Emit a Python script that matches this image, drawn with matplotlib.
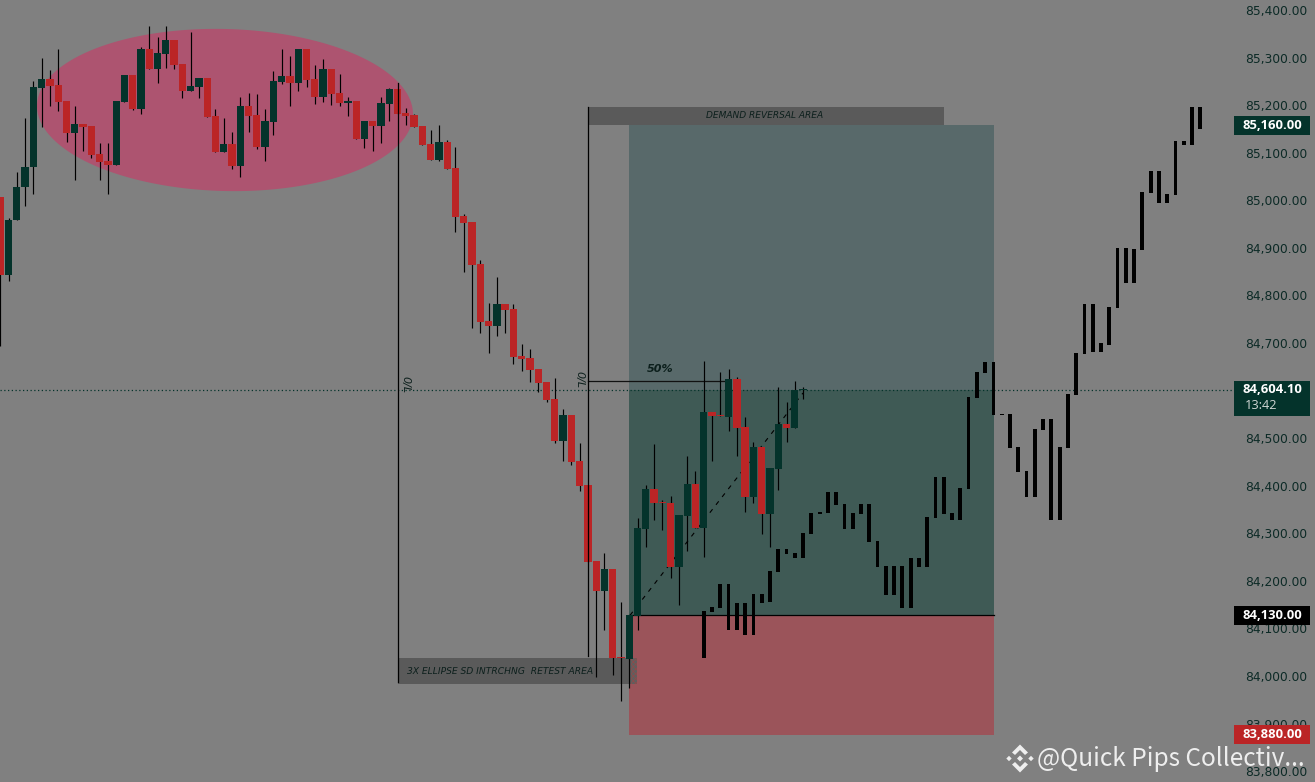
import numpy as np
import matplotlib
matplotlib.use('Agg')
import matplotlib.pyplot as plt
from matplotlib.patches import Polygon, Rectangle

BG = '#808080'
GREEN = '#04332b'
RED = '#bb2526'
AXIS_TEXT = '#0c2a26'

# candles, one value per bar
opens = [85007, 84842, 84958, 85027, 85069, 85236, 85255, 85242, 85209, 85142, 85161, 85156, 85098, 85083, 85074,
         85207, 85264, 85192, 85318, 85276, 85308, 85337, 85287, 85230, 85238, 85257, 85177, 85102, 85119, 85072,
         85198, 85179, 85112, 85165, 85249, 85261, 85247, 85318, 85255, 85217, 85276, 85226, 85205, 85209, 85129,
         85167, 85156, 85203, 85234, 85184, 85179, 85156, 85119, 85085, 85123, 85068, 84967, 84955, 84866, 84747,
         84736, 84783, 84772, 84673, 84669, 84646, 84617, 84583, 84495, 84549, 84452, 84401, 84242, 84179, 84225,
         84040, 84036, 84127, 84309, 84393, 84366, 84364, 84229, 84336, 84404, 84311, 84555, 84548, 84544, 84624,
         84523, 84376, 84481, 84341, 84435, 84530, 84521, 84601]
highs = [85007, 84962, 85059, 85173, 85251, 85299, 85274, 85318, 85209, 85198, 85161, 85156, 85120, 85120, 85209,
         85264, 85264, 85322, 85366, 85343, 85366, 85337, 85287, 85354, 85257, 85257, 85192, 85173, 85144, 85217,
         85225, 85224, 85192, 85272, 85318, 85303, 85318, 85318, 85284, 85297, 85276, 85266, 85217, 85209, 85167,
         85167, 85217, 85236, 85234, 85194, 85182, 85156, 85148, 85159, 85127, 85112, 84971, 84955, 84875, 84785,
         84839, 84783, 84783, 84698, 84688, 84646, 84617, 84627, 84562, 84549, 84490, 84401, 84242, 84259, 84225,
         84156, 84128, 84332, 84402, 84488, 84370, 84378, 84338, 84462, 84431, 84662, 84555, 84639, 84645, 84628,
         84544, 84492, 84481, 84437, 84607, 84576, 84620, 84607]
lows = [84693, 84830, 84958, 84989, 85014, 85155, 85198, 85188, 85123, 85043, 85104, 85089, 85043, 85014, 85074,
        85207, 85190, 85182, 85276, 85247, 85278, 85276, 85215, 85230, 85215, 85175, 85102, 85102, 85066, 85049,
        85144, 85108, 85083, 85137, 85245, 85198, 85230, 85238, 85203, 85207, 85200, 85198, 85177, 85129, 85110,
        85104, 85121, 85167, 85182, 85158, 85154, 85116, 85085, 85083, 85066, 84934, 84850, 84732, 84722, 84678,
        84715, 84722, 84656, 84642, 84617, 84598, 84577, 84489, 84452, 84443, 84389, 84240, 83998, 84097, 84002,
        83948, 83975, 84097, 84271, 84328, 84307, 84206, 84150, 84263, 84311, 84250, 84452, 84546, 84515, 84462,
        84345, 84364, 84299, 84271, 84391, 84492, 84521, 84582]
closes = [84842, 84959, 85028, 85070, 85238, 85255, 85240, 85207, 85142, 85161, 85154, 85095, 85081, 85074, 85209,
          85264, 85192, 85318, 85276, 85310, 85337, 85284, 85230, 85240, 85257, 85175, 85102, 85119, 85072, 85198,
          85177, 85112, 85167, 85251, 85261, 85247, 85318, 85253, 85217, 85276, 85224, 85205, 85209, 85129, 85167,
          85156, 85205, 85234, 85182, 85177, 85154, 85116, 85085, 85123, 85066, 84965, 84953, 84864, 84745, 84736,
          84783, 84770, 84671, 84667, 84644, 84615, 84581, 84495, 84549, 84450, 84399, 84240, 84179, 84225, 84038,
          84038, 84128, 84311, 84393, 84364, 84364, 84229, 84338, 84404, 84311, 84555, 84546, 84546, 84624, 84521,
          84376, 84481, 84341, 84437, 84530, 84521, 84601, 84604.1]

# black projected path, starts at bar 85
ghost_start = 85
ghost_top = [84137, 84145, 84193, 84193, 84154, 84154, 84173, 84173, 84221, 84267, 84267, 84259, 84301, 84343, 84344,
             84387, 84387, 84362, 84343, 84362, 84362, 84284, 84231, 84231, 84231, 84248, 84248, 84334, 84418, 84418,
             84343, 84395, 84586, 84639, 84660, 84660, 84551, 84551, 84481, 84431, 84519, 84540, 84540, 84481, 84593,
             84678, 84783, 84783, 84699, 84776, 84900, 84900, 84898, 85018, 85062, 85062, 85014, 85125, 85125, 85196,
             85196]
ghost_bottom = [84038, 84135, 84143, 84097, 84097, 84086, 84086, 84154, 84156, 84219, 84257, 84248, 84248, 84299, 84341,
                84343, 84360, 84309, 84309, 84341, 84282, 84229, 84170, 84170, 84143, 84143, 84229, 84229, 84332, 84341,
                84328, 84328, 84393, 84584, 84637, 84548, 84548, 84479, 84429, 84376, 84376, 84517, 84328, 84328, 84479,
                84591, 84676, 84682, 84682, 84696, 84774, 84827, 84827, 84896, 85016, 84995, 84995, 85012, 85117, 85117,
                85150]

# 84,600 sits under the last price tag in the original, so it has no label
price_ticks = [85400, 85300, 85200, 85100, 85000, 84900, 84800, 84700, 84500, 84400, 84300, 84200, 84100,
               84000, 83900, 83800]
last_price = 84604.10
target = 85160
entry = 84130
stop = 83880

# pixel scale of the chart
BAR_PX = 8.276
X0_PX = 0.3
PRICE_PX = 0.4757
Y0_PX = 10


def bx(px):
    return (px - X0_PX) / BAR_PX


def py(px):
    return 85400 - (px - Y0_PX) / PRICE_PX


fig = plt.figure(figsize=(13.15, 7.82), dpi=100, facecolor=BG)
ax = fig.add_axes([0, 0, 1, 1], facecolor=BG)
ax.set_xlim(bx(0), bx(1315))
ax.set_ylim(py(782), py(0))
for s in ax.spines.values():
    s.set_visible(False)
ax.set_axisbelow(True)

ax.set_xticks([])
ax.yaxis.tick_right()
ax.set_yticks(price_ticks)
ax.set_yticklabels([f'{p:,.2f}' for p in price_ticks])
ax.tick_params(axis='y', length=0, pad=-50.5, labelsize=8.8, labelcolor=AXIS_TEXT)

# ellipse, tilted on screen
t = np.linspace(0, 2 * np.pi, 300)
tilt = np.radians(1.5)
ex = 188 * np.cos(t)
ey = 81 * np.sin(t)
ell_x = 225 + ex * np.cos(tilt) - ey * np.sin(tilt)
ell_y = 110 + ex * np.sin(tilt) + ey * np.cos(tilt)
ax.add_patch(Polygon(np.column_stack([bx(ell_x), py(ell_y)]), fc='#ad5470', ec='none', zorder=1))

# position tool, edges sit about a pixel under the labels
z_left, z_right = bx(629), bx(994)
z_top, z_last, z_entry, z_stop = py(125), py(390.3), py(615.3), py(735)
ax.add_patch(Rectangle((z_left, z_last), z_right - z_left, z_top - z_last, fc='#58696a', ec='none', zorder=1))
ax.add_patch(Rectangle((z_left, z_entry), z_right - z_left, z_last - z_entry, fc='#3f5a55', ec='none', zorder=1))
ax.add_patch(Rectangle((z_left, z_stop), z_right - z_left, z_entry - z_stop, fc='#9b545a', ec='none', zorder=1))
ax.plot([z_left, z_right], [z_entry, z_entry], color='black', lw=0.9, zorder=2)
ax.plot([bx(630), bx(803)], [z_entry, py(393)], color='black', lw=0.8, dashes=(4, 5), zorder=2)

# label boxes
ax.add_patch(Rectangle((bx(589), py(125)), bx(944) - bx(589), py(107) - py(125), fc='#5a5a5a', ec='none', zorder=1.5))
ax.add_patch(Rectangle((bx(398), py(684)), bx(631) - bx(398), py(658) - py(684), fc='#5a5a5a', ec='none', zorder=1.5))
plt.rcParams['hatch.linewidth'] = 0.5
ax.add_patch(Rectangle((bx(631), py(684)), bx(637) - bx(631), py(658) - py(684), fc='#5f5f5f', ec='#8f4a4a',
                       lw=0, hatch='xxxxxxx', zorder=1.5))
ax.text(bx(765), py(115.5), 'DEMAND REVERSAL AREA', fontsize=6.5, style='italic', color='#0c1f1c',
        ha='center', va='center', zorder=6)
ax.text(bx(500), py(671), '3X ELLIPSE SD INTRCHNG  RETEST AREA', fontsize=6.6, style='italic', color='#0c1f1c',
        ha='center', va='center', zorder=6)
ax.text(bx(660), py(369), '50%', fontsize=8, style='italic', color='#0c1f1c', weight='bold',
        ha='center', va='center', zorder=6)
ax.text(bx(405), py(385), '0/L', fontsize=8, style='italic', color='#0c1f1c', rotation=270,
        ha='center', va='center', zorder=6)
ax.text(bx(579), py(380), '0/L', fontsize=8, style='italic', color='#0c1f1c', rotation=270,
        ha='center', va='center', zorder=6)

# vertical and 50% lines
ax.plot([bx(397.5), bx(397.5)], [py(83), py(682)], color='black', lw=0.9, zorder=4)
ax.plot([bx(588.3), bx(588.3)], [py(107), py(656)], color='black', lw=0.9, zorder=4)
ax.plot([bx(588.3), bx(728)], [py(380.5), py(380.5)], color='#111111', lw=0.9, zorder=2)

# last price line
ax.plot([bx(0), bx(1234)], [z_last, z_last], color=GREEN, lw=0.9, dashes=(1, 2), zorder=2.5)

# candles
o = np.array(opens)
h = np.array(highs)
l = np.array(lows)
c = np.array(closes)
bars = np.arange(len(o))
up = c >= o
ax.vlines(bars, l, h, color='black', lw=0.85, zorder=3)
ax.bar(bars[up], (c - o)[up], bottom=o[up], width=0.88, color=GREEN, linewidth=0, zorder=3.5)
ax.bar(bars[~up], (o - c)[~up], bottom=c[~up], width=0.88, color=RED, linewidth=0, zorder=3.5)

# projection
g_top = np.array(ghost_top)
g_bot = np.array(ghost_bottom)
g_x = ghost_start + np.arange(len(g_top))
ax.bar(g_x, g_top - g_bot, bottom=g_bot, width=0.46, color='black', linewidth=0, zorder=3.2)

# price tags
tag_l, tag_r = bx(1234), bx(1310)
tag_font = dict(color='white', fontsize=9.4, weight='bold', family='Open Sans', ha='center', va='center', zorder=8)
for price, fc, y_mid in [(target, GREEN, py(125)), (entry, 'black', py(615.5)), (stop, RED, py(734.5))]:
    half = 9.5 / PRICE_PX
    ax.add_patch(Rectangle((tag_l, y_mid - half), tag_r - tag_l, 2 * half, fc=fc, ec='none', zorder=7))
    ax.text((tag_l + tag_r) / 2, y_mid, f'{price:,.2f}', **tag_font)
ax.add_patch(Rectangle((tag_l, py(416)), tag_r - tag_l, py(381) - py(416), fc=GREEN, ec='none', zorder=7))
ax.text((tag_l + tag_r) / 2, py(389.5), f'{last_price:,.2f}', **tag_font)
ax.text(bx(1245), py(405), '13:42', color='#d0d6d4', fontsize=9.2, family='Open Sans', ha='left', va='center', zorder=8)

# watermark
wm = '#eeeeee'
logo_cx, logo_cy = 1020, 758.5
for dx, dy, r in [(0, 0, 3), (-11, 0, 2.7), (11, 0, 2.7)]:
    pts = [(logo_cx + dx, logo_cy + dy - r), (logo_cx + dx + r, logo_cy + dy),
           (logo_cx + dx, logo_cy + dy + r), (logo_cx + dx - r, logo_cy + dy)]
    ax.add_patch(Polygon([(bx(a), py(b)) for a, b in pts], fc=wm, ec='none', zorder=9))
for sign in (-1, 1):
    pts = [(logo_cx - 8, logo_cy + sign * 6), (logo_cx, logo_cy + sign * 14), (logo_cx + 8, logo_cy + sign * 6),
           (logo_cx + 5, logo_cy + sign * 3.5), (logo_cx, logo_cy + sign * 8.5), (logo_cx - 5, logo_cy + sign * 3.5)]
    ax.add_patch(Polygon([(bx(a), py(b)) for a, b in pts], fc=wm, ec='none', zorder=9))
ax.text(bx(1037), py(759), '@Quick Pips Collectiv...', color=wm, fontsize=17.6,
        family=['Noto Sans CJK SC', 'DejaVu Sans'], ha='left', va='center', zorder=9)

fig.savefig('out.png', dpi=100, facecolor=BG)
